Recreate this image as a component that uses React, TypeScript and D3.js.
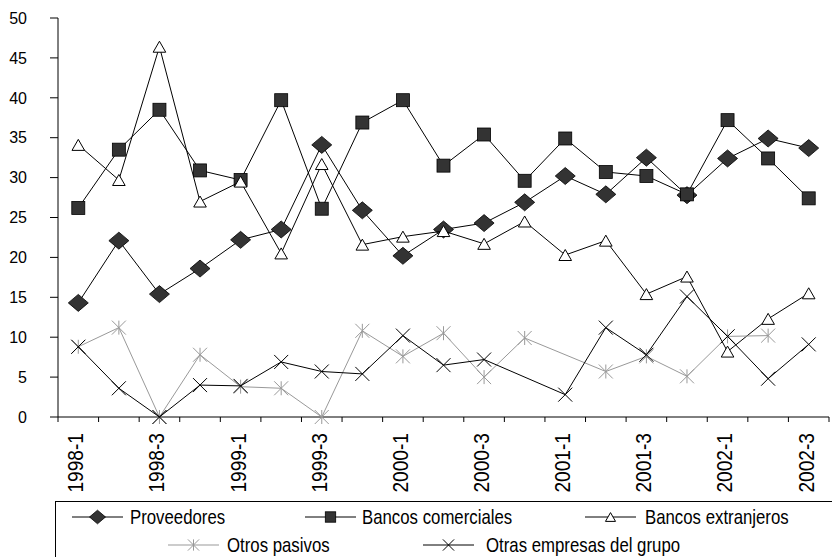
import React from "react";
import * as d3 from "d3";

const categories = [
  "1998-1","1998-2","1998-3","1998-4",
  "1999-1","1999-2","1999-3","1999-4",
  "2000-1","2000-2","2000-3","2000-4",
  "2001-1","2001-2","2001-3","2001-4",
  "2002-1","2002-2","2002-3",
];
const yTicks = [0, 5, 10, 15, 20, 25, 30, 35, 40, 45, 50];

const proveedores = [14.3,22.1,15.4,18.6,22.2,23.5,34.1,25.9,20.2,23.5,24.3,26.9,30.2,27.9,32.5,27.8,32.4,34.9,33.7];
const bancosComerciales = [26.2,33.5,38.5,30.9,29.7,39.7,26.1,36.9,39.7,31.5,35.4,29.6,34.9,30.7,30.2,27.9,37.2,32.4,27.4];
const bancosExtranjeros = [34.1,29.7,46.4,27.0,29.5,20.5,31.7,21.6,22.6,23.3,21.7,24.5,20.3,22.1,15.4,17.6,8.2,12.3,15.5];
const otrosPasivos: (number | null)[] = [8.8,11.2,0,7.8,3.8,3.6,0,10.8,7.6,10.5,5.0,9.9,null,5.7,7.6,5.1,10.1,10.2,null];
const otrasEmpresas: (number | null)[] = [8.8,3.6,0,4.0,3.9,6.9,5.7,5.4,10.2,6.5,7.2,null,2.8,11.2,7.8,15.1,10.1,4.8,9.1];

const seriesNames = ["Proveedores", "Bancos comerciales", "Bancos extranjeros", "Otros pasivos", "Otras empresas del grupo"];

type MarkerKind = "diamond" | "square" | "triangle" | "asterisk" | "cross";

const series: { name: string; values: (number | null)[]; marker: MarkerKind; color: string }[] = [
  { name: seriesNames[0], values: proveedores, marker: "diamond", color: "#000" },
  { name: seriesNames[1], values: bancosComerciales, marker: "square", color: "#000" },
  { name: seriesNames[2], values: bancosExtranjeros, marker: "triangle", color: "#000" },
  { name: seriesNames[3], values: otrosPasivos, marker: "asterisk", color: "#999" },
  { name: seriesNames[4], values: otrasEmpresas, marker: "cross", color: "#000" },
];

const SANS = "'Liberation Sans', Arial, sans-serif";

function Marker({ kind, x, y, s = 1, color }: { kind: MarkerKind; x: number; y: number; s?: number; color: string }) {
  switch (kind) {
    case "diamond": {
      const w = 10 * s, h = 8.5 * s;
      return <path d={`M${x - w},${y}L${x},${y - h}L${x + w},${y}L${x},${y + h}Z`} fill="#333" stroke="#000" strokeWidth={0.8} />;
    }
    case "square": {
      const h = 6.5 * s;
      return <rect x={x - h} y={y - h} width={2 * h} height={2 * h} fill="#333" stroke="#000" strokeWidth={0.8} />;
    }
    case "triangle": {
      const w = 6.3 * s, h = 5.5 * s;
      return <path d={`M${x},${y - h}L${x + w},${y + h}L${x - w},${y + h}Z`} fill="#fff" stroke="#000" strokeWidth={1} />;
    }
    case "asterisk": {
      const r = 7 * s;
      return (
        <g stroke={color} strokeWidth={1}>
          <line x1={x - r} y1={y - r} x2={x + r} y2={y + r} />
          <line x1={x - r} y1={y + r} x2={x + r} y2={y - r} />
          <line x1={x} y1={y - r} x2={x} y2={y + r} />
        </g>
      );
    }
    case "cross": {
      const r = 7 * s;
      return (
        <g stroke={color} strokeWidth={1}>
          <line x1={x - r} y1={y - r} x2={x + r} y2={y + r} />
          <line x1={x - r} y1={y + r} x2={x + r} y2={y - r} />
        </g>
      );
    }
  }
}

export default function App() {
  const W = 832, H = 557;
  const left = 58, right = 829, top = 18, bottom = 417;
  const x = d3.scaleBand<string>().domain(categories).range([left, right]).padding(0);
  const y = d3.scaleLinear().domain([0, 50]).range([bottom, top]);
  const cx = (c: string) => (x(c) as number) + x.bandwidth() / 2;

  const lineGen = d3
    .line<{ c: string; v: number }>()
    .x((d) => cx(d.c))
    .y((d) => y(d.v));

  const legendRow1 = [
    { idx: 0, lx: 72, tx: 130 },
    { idx: 1, lx: 305, tx: 362 },
    { idx: 2, lx: 585, tx: 645 },
  ];
  const legendRow2 = [
    { idx: 3, lx: 168, tx: 227 },
    { idx: 4, lx: 423, tx: 486 },
  ];

  const boundaries = d3.range(categories.length + 1).map((i) => left + i * x.bandwidth());

  return (
    <svg width={W} height={H} style={{ position: "absolute", left: 0, top: 0, background: "#fff" }}>
      <rect x={0} y={0} width={W} height={H} fill="#fff" />
      {/* y axis */}
      <line x1={left} y1={top} x2={left} y2={bottom} stroke="#000" strokeWidth={1} />
      {yTicks.map((t) => (
        <g key={t}>
          <line x1={left - 8} x2={left} y1={y(t)} y2={y(t)} stroke="#000" strokeWidth={1} />
          <text x={27} y={y(t)} dy="0.36em" textAnchor="end" fontFamily={SANS} fontSize={16} fill="#000">
            {t}
          </text>
        </g>
      ))}
      {/* x axis */}
      <line x1={left} y1={bottom} x2={right} y2={bottom} stroke="#000" strokeWidth={1} />
      {boundaries.map((b, i) => (
        <line key={i} x1={b} x2={b} y1={bottom} y2={bottom + 5} stroke="#000" strokeWidth={1} />
      ))}
      {categories.map((c, i) =>
        i % 2 === 0 ? (
          <text
            key={c}
            transform={`translate(${cx(c) - 3},${433}) rotate(-90) scale(0.87,1)`}
            dy="0.36em"
            textAnchor="end"
            fontFamily={SANS}
            fontSize={22}
            fill="#000"
          >
            {c}
          </text>
        ) : null
      )}
      {/* series */}
      {series.map((s) => {
        const pts = s.values
          .map((v, i) => ({ c: categories[i], v }))
          .filter((d) => d.v !== null) as { c: string; v: number }[];
        return (
          <g key={s.name}>
            <path d={lineGen(pts) || ""} fill="none" stroke={s.color} strokeWidth={1} />
            {pts.map((p) => (
              <Marker key={p.c} kind={s.marker} x={cx(p.c)} y={y(p.v)} color={s.color} />
            ))}
          </g>
        );
      })}
      {/* legend */}
      <rect x={55.5} y={501.5} width={800} height={100} fill="#fff" stroke="#000" strokeWidth={1} />
      {[
        ...legendRow1.map((r) => ({ ...r, cy: 517 })),
        ...legendRow2.map((r) => ({ ...r, cy: 545 })),
      ].map((r) => {
        const s = series[r.idx];
        return (
          <g key={s.name}>
            <line x1={r.lx} x2={r.lx + 51} y1={r.cy} y2={r.cy} stroke={s.color} strokeWidth={1} />
            <Marker kind={s.marker} x={r.lx + 25.5} y={r.cy} s={0.8} color={s.color} />
            <text
              transform={`translate(${r.tx},${r.cy}) scale(0.84,1)`}
              dy="0.36em"
              fontFamily={SANS}
              fontSize={20}
              fill="#000"
            >
              {s.name}
            </text>
          </g>
        );
      })}
    </svg>
  );
}
